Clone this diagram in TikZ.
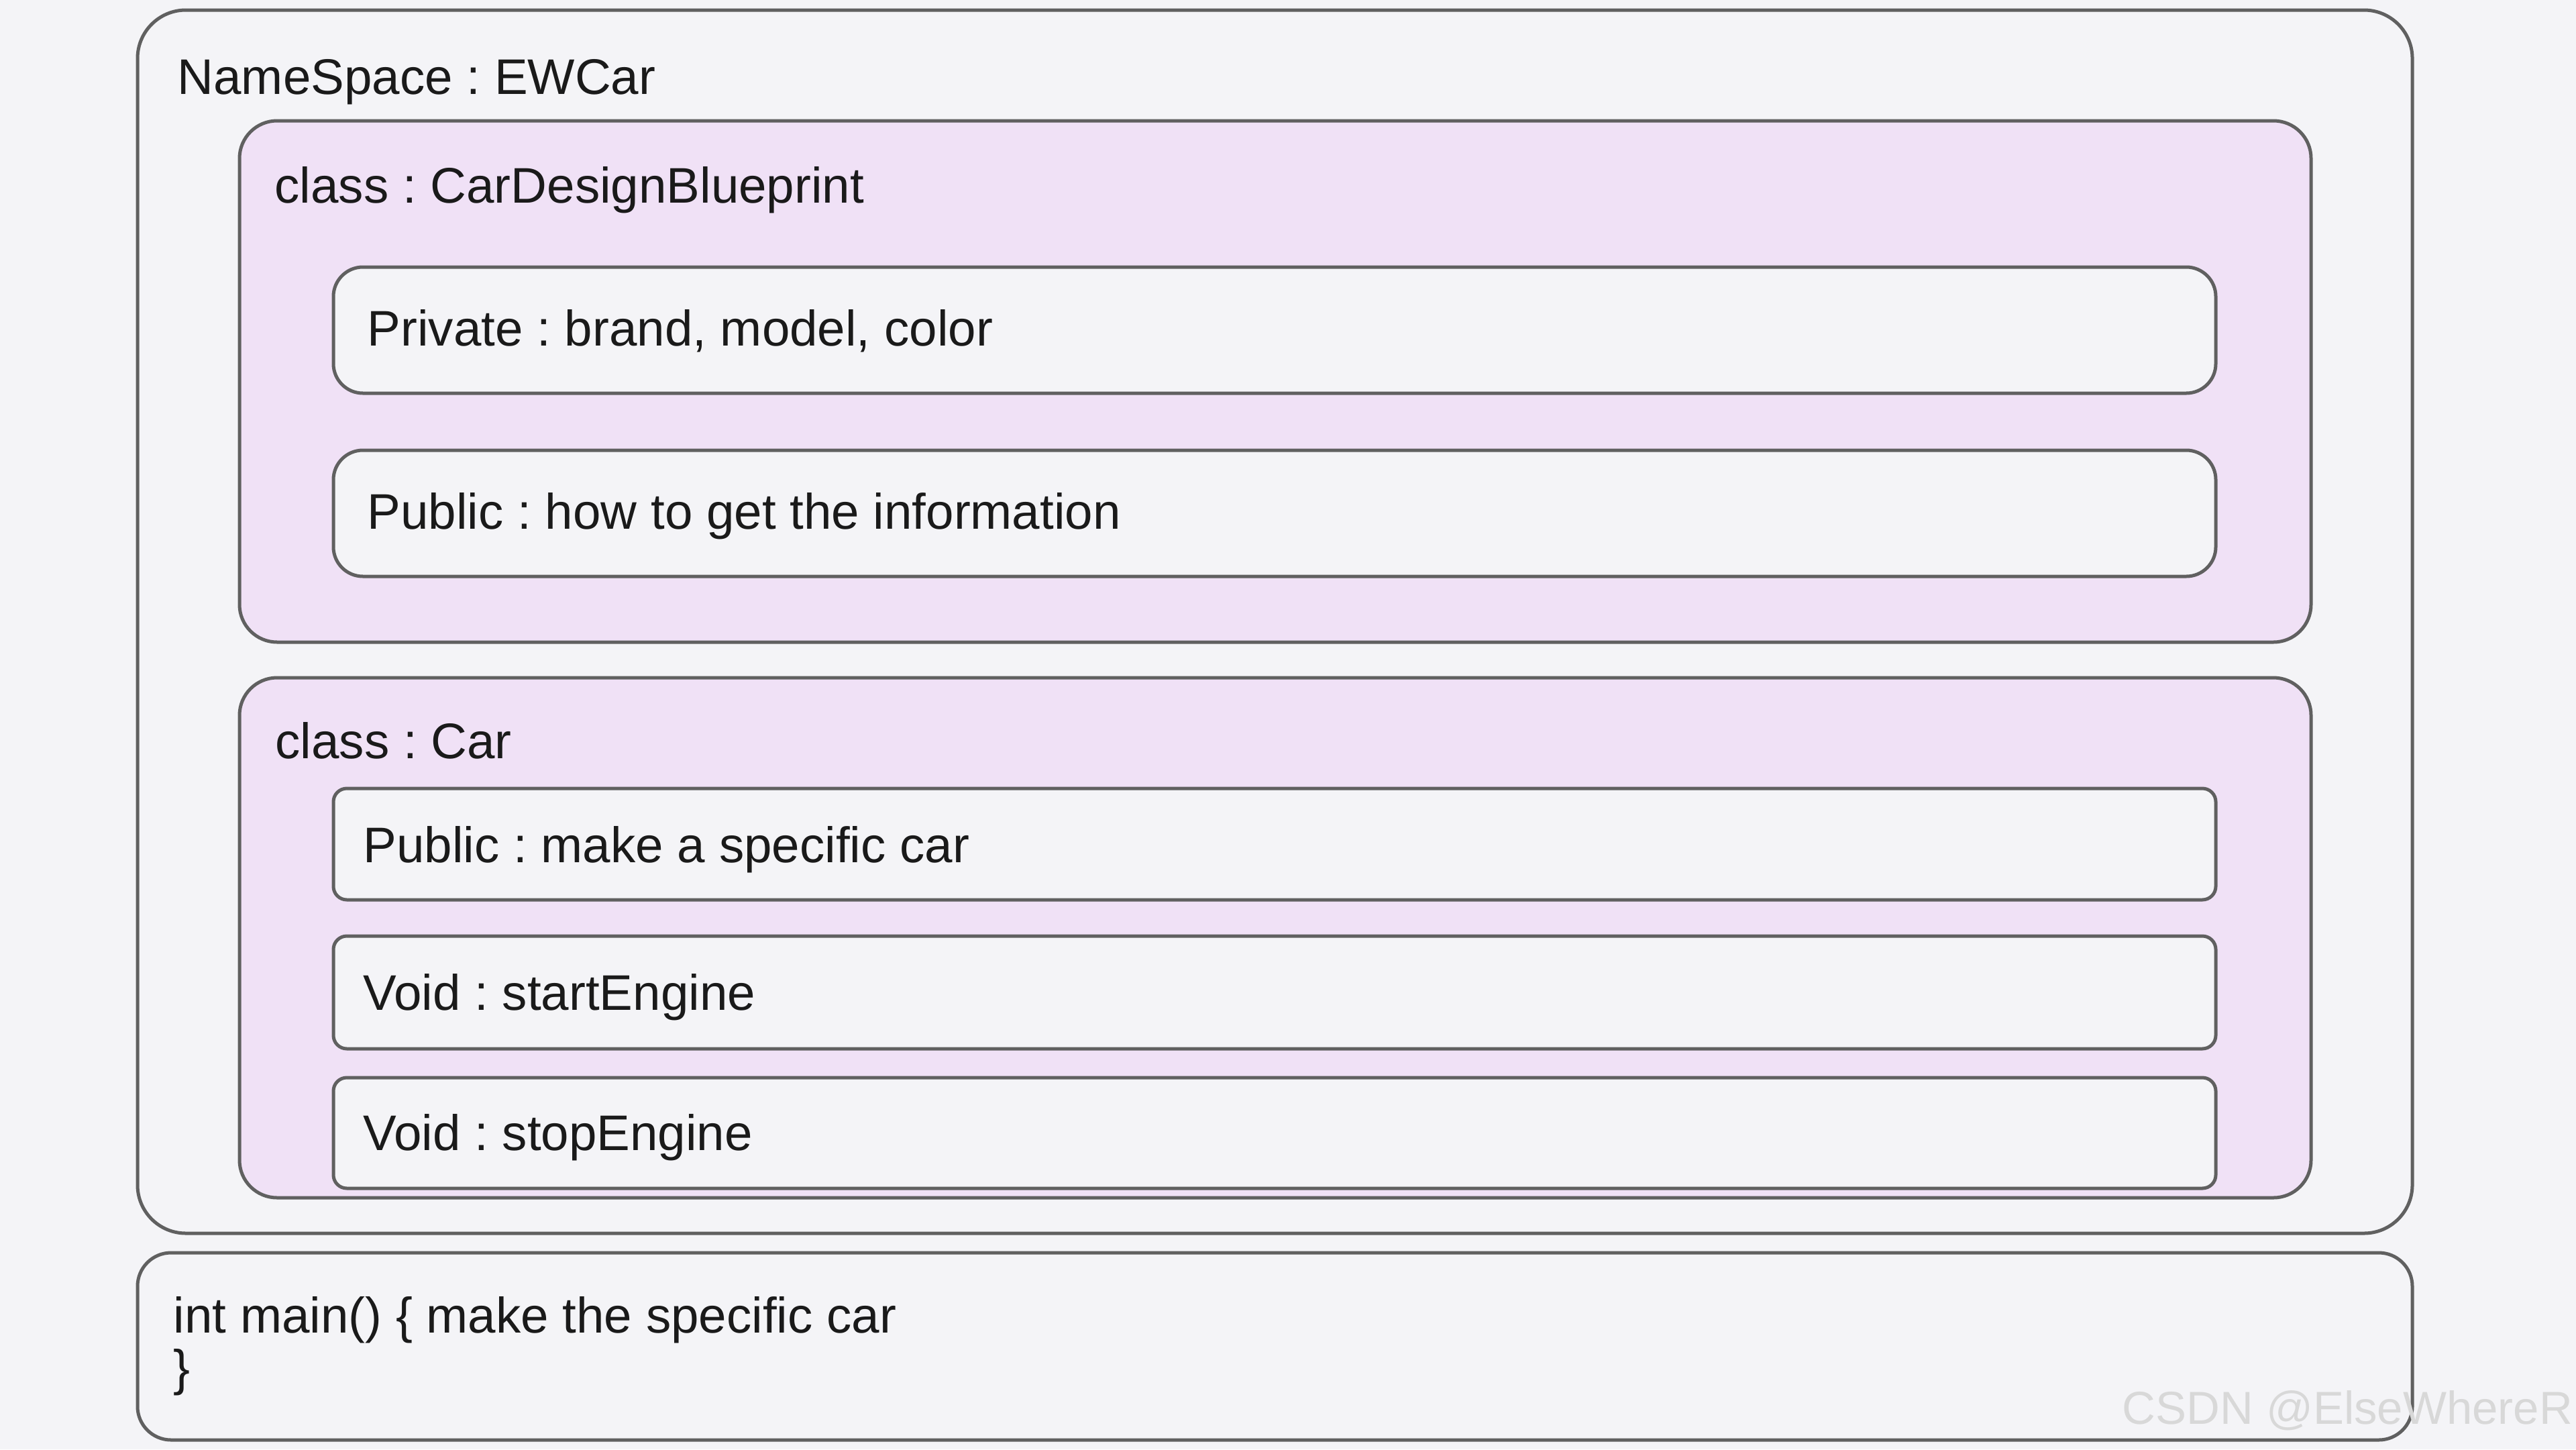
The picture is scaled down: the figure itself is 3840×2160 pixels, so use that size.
\documentclass[tikz,border=0pt]{standalone}
\usepackage{fontspec}
\setmainfont{Liberation Sans}
\frenchspacing
\definecolor{bgc}{HTML}{F4F4F7}
\definecolor{purp}{HTML}{F0E1F6}
\definecolor{edge}{HTML}{606060}
\definecolor{ink}{HTML}{1A1A1A}
\definecolor{wm}{HTML}{D8D8D8}
\begin{document}
\begin{tikzpicture}[x=0.01cm,y=-0.01cm,
  box/.style={draw=edge,line width=0.05cm,rectangle},
  outerbox/.style={box,fill=bgc,rounded corners=0.72cm},
  classbox/.style={box,fill=purp,rounded corners=0.56cm},
  membox/.style={box,fill=bgc,rounded corners=0.44cm},
  smallbox/.style={box,fill=bgc,rounded corners=0.2cm},
  mainbox/.style={box,fill=bgc,rounded corners=0.5cm},
  lbl/.style={inner sep=0pt,anchor=base west,text=ink,font=\fontsize{21.2}{22.2}\selectfont\frenchspacing},
  wmark/.style={inner sep=0pt,anchor=base west,text=wm,font=\fontsize{19.6}{22}\selectfont}]
\fill[bgc] (0,0) rectangle (3840,2160);
\useasboundingbox (0,0) rectangle (3840,2160);
% outer namespace box
\draw[outerbox] (205,15) rectangle (3596,1838);
\node[lbl] (nslbl) at (264,140) {NameSpace : EWCar};
% class CarDesignBlueprint
\draw[classbox] (357,180) rectangle (3445,957);
\node[lbl] (c1lbl) at (409,302) {class : CarDesignBlueprint};
\draw[membox] (497,398) rectangle (3303,586);
\node[lbl] (privlbl) at (547,515) {Private : brand, model, color};
\draw[membox] (497,671) rectangle (3303,859);
\node[lbl] (publbl) at (547,788) {Public : how to get the information};
% class Car
\draw[classbox] (357,1010) rectangle (3445,1785);
\node[lbl] (c2lbl) at (410,1130) {class : Car};
\draw[smallbox] (497,1175) rectangle (3303,1341);
\node[lbl] (makelbl) at (541,1285) {Public : make a specific car};
\draw[smallbox] (497,1395) rectangle (3303,1563);
\node[lbl] (startlbl) at (541,1505) {Void : startEngine};
\draw[smallbox] (497,1606) rectangle (3303,1771);
\node[lbl] (stoplbl) at (541,1714) {Void : stopEngine};
% main box
\draw[mainbox] (205,1867) rectangle (3596,2146);
\node[lbl] (mainl1) at (258,1986) {int main() \{ make the specific car};
\node[lbl] (mainl2) at (258,2064) {\}};
% watermark
\node[wmark] (wmk) at (3163,2122) {CSDN @ElseWhereR};
\end{tikzpicture}
\end{document}
